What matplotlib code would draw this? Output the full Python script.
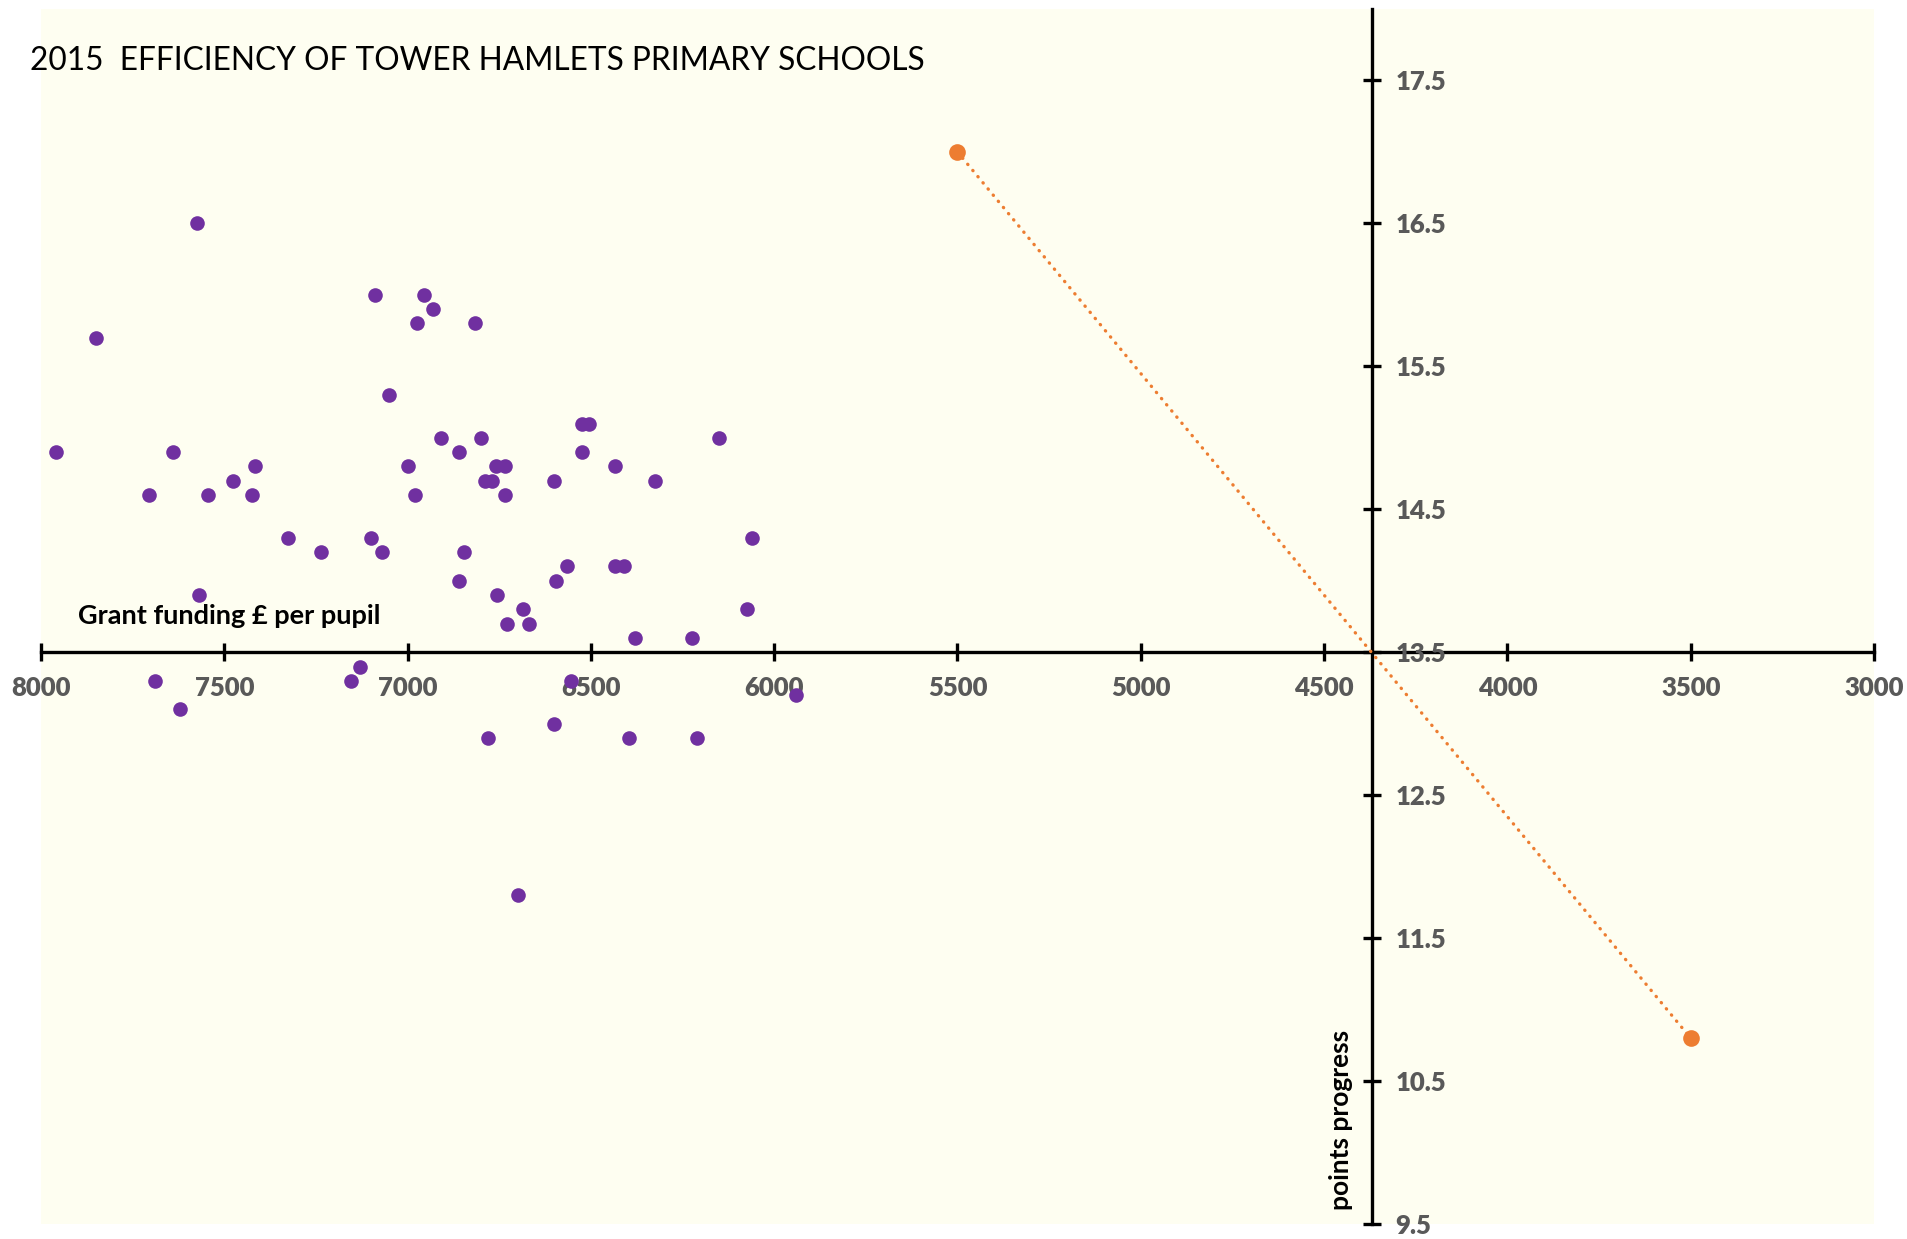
"""
2015 efficiency of Tower Hamlets primary schools
grant funding per pupil vs points progress
"""

# Import
import matplotlib
matplotlib.use("Agg")
import matplotlib.pyplot as plt
import numpy as np

# Schools: grant funding (GBP per pupil) and points progress
grant = [7575, 7850, 7960, 7640, 7705, 7545, 7475, 7415, 7425, 7325,
         7235, 7570, 7090, 6955, 6930, 6975, 6815, 7050, 6910, 6800,
         7000, 6980, 6860, 6760, 6735, 6790, 6770, 6735, 7100, 7070,
         6845, 6860, 6755, 6685, 6730, 6670, 6525, 6505, 6525, 6600,
         6435, 6325, 6565, 6595, 6435, 6410, 6150, 6060, 6075, 6380,
         6225, 7690, 7620, 7130, 7155, 6555, 5940, 6780, 6600, 6395,
         6210, 6700]
progress = [16.5, 15.7, 14.9, 14.9, 14.6, 14.6, 14.7, 14.8, 14.6, 14.3,
            14.2, 13.9, 16.0, 16.0, 15.9, 15.8, 15.8, 15.3, 15.0, 15.0,
            14.8, 14.6, 14.9, 14.8, 14.8, 14.7, 14.7, 14.6, 14.3, 14.2,
            14.2, 14.0, 13.9, 13.8, 13.7, 13.7, 15.1, 15.1, 14.9, 14.7,
            14.8, 14.7, 14.1, 14.0, 14.1, 14.1, 15.0, 14.3, 13.8, 13.6,
            13.6, 13.3, 13.1, 13.4, 13.3, 13.3, 13.2, 12.9, 13.0, 12.9,
            12.9, 11.8]

# Efficiency line (orange)
line_grant = [5500, 3500]
line_progress = [17.0, 10.8]

# Axis crossing points
y_axis_at = 4370
x_axis_at = 13.5

x_ticks = np.arange(3000, 8001, 500)
y_ticks = np.arange(9.5, 17.6, 1.0)

plt.rcParams['font.family'] = ['Lato', 'DejaVu Sans']

fig = plt.figure(figsize=(19.08, 12.39), dpi=100)
ax = fig.add_axes([41 / 1908, 1 - 1224 / 1239, (1874 - 41) / 1908, (1224 - 9) / 1239])
ax.set_facecolor('#FEFEF1')

# Scatter of the schools
ax.plot(grant, progress, 'o', color='#7030A0', markersize=10.5, markeredgewidth=0, zorder=3)

# Orange dotted line with end points
ax.plot(line_grant, line_progress, color='#ED7D31', linewidth=2.4,
        dashes=(0.1, 2.3), dash_capstyle='round', zorder=2)
ax.plot(line_grant, line_progress, 'o', color='#ED7D31', markersize=12,
        markeredgewidth=0, zorder=4)

ax.set_xlim(8000, 3000)
ax.set_ylim(9.5, 18)

# Axes crossing in the middle
ax.spines['top'].set_visible(False)
ax.spines['left'].set_visible(False)
ax.spines['right'].set_position(('data', y_axis_at))
ax.spines['bottom'].set_position(('data', x_axis_at))
for side in ['right', 'bottom']:
    ax.spines[side].set_linewidth(2.4)
    ax.spines[side].set_zorder(1)
ax.yaxis.set_ticks_position('right')
ax.xaxis.set_ticks_position('bottom')

ax.set_xticks(x_ticks)
ax.set_xticklabels([str(v) for v in x_ticks], fontweight='heavy')
ax.set_yticks(y_ticks)
ax.set_yticklabels([f'{v:.1f}' for v in y_ticks], fontweight='heavy')
ax.tick_params(axis='both', direction='inout', length=12.5, width=2.4,
               labelsize=18.5, labelcolor='#595959', pad=11)

# Axis titles
ax.text(7900, 13.70, 'Grant funding £ per pupil', fontsize=19.5, fontweight='bold',
        color='black', ha='left', va='baseline')
ax.text(4420, 9.6, 'points progress', fontsize=19, fontweight='bold',
        color='black', rotation=90, ha='right', va='bottom')

# Chart title
fig.text(30 / 1908, 1 - 70 / 1239, '2015  EFFICIENCY OF TOWER HAMLETS PRIMARY SCHOOLS',
         fontsize=22.8, color='black', ha='left', va='baseline')

fig.savefig('out.png', dpi=100, facecolor='white')
